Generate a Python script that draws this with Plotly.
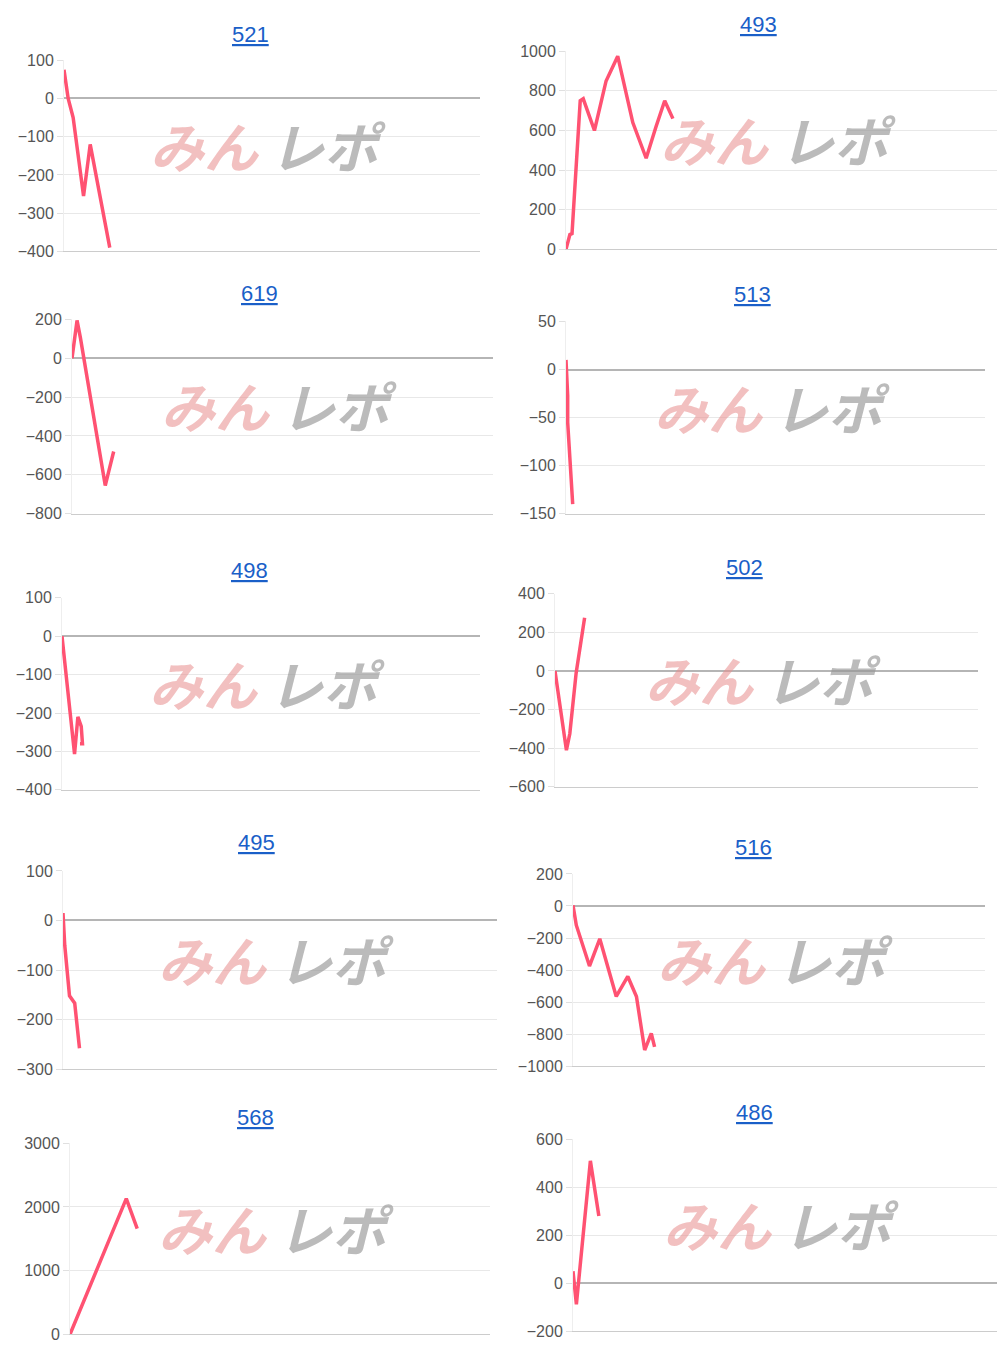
import plotly.graph_objects as go

W, H = 1000, 1355

names = ['521', '493', '619', '513', '498', '502', '495', '516', '568', '486']

# x is position along the (unlabelled) x axis, 0..100
x_521 = [0, 1.0, 2.2, 4.7, 6.3, 8.7, 11.0]
y_521 = [75, 0, -50, -255, -120, -255, -390]
x_493 = [0, 0.9, 1.4, 2.7, 3.3, 4.0, 6.6, 9.3, 12.0, 15.5, 18.6, 20.9, 22.9, 24.8]
y_493 = [0, 75, 80, 560, 750, 760, 600, 850, 975, 640, 460, 620, 750, 660]
x_619 = [0, 1.2, 2.0, 7.9, 8.7, 9.9]
y_619 = [0, 195, 105, -655, -585, -480]
x_513 = [0, 0.4, 0.4, 0.8, 1.2, 1.6]
y_513 = [10, -27, -55, -80, -113, -140]
x_498 = [0, 1.0, 3.0, 3.8, 4.6, 4.9, 4.3]
y_498 = [0, -105, -307, -210, -235, -280, -280]
x_502 = [0, 2.7, 3.5, 5.0, 7.0]
y_502 = [0, -410, -325, -10, 275]
x_495 = [0, 0.4, 1.5, 2.7, 3.8]
y_495 = [15, -50, -152, -167, -258]
x_516 = [0, 0.8, 4.0, 6.5, 10.5, 13.3, 15.4, 17.4, 19.0, 19.8]
y_516 = [5, -120, -375, -205, -565, -440, -565, -900, -795, -880]
x_568 = [0, 13.4, 16.0]
y_568 = [0, 2130, 1660]
x_486 = [0, 0.8, 4.1, 6.1]
y_486 = [50, -88, 510, 280]

series = [(x_521, y_521), (x_493, y_493), (x_619, y_619), (x_513, y_513),
          (x_498, y_498), (x_502, y_502), (x_495, y_495), (x_516, y_516),
          (x_568, y_568), (x_486, y_486)]

y_ranges = [(-400, 100), (0, 1000), (-800, 200), (-150, 50), (-400, 100),
            (-600, 400), (-300, 100), (-1000, 200), (0, 3000), (-200, 600)]
y_dticks = [100, 200, 200, 50, 100, 200, 100, 200, 1000, 200]

# pixel boxes: x0, x1, y_top, y_bottom, title x, title y
boxes = [(64, 480, 60, 251, 250, 34), (566, 997, 51, 249, 758, 24),
         (72, 493, 319, 513, 259, 293), (566, 985, 321, 513, 752, 294),
         (62, 480, 597, 789, 249, 570), (555, 978, 593, 786, 744, 567),
         (63, 497, 870, 1068, 256, 842), (573, 985, 873, 1065, 753, 847),
         (70, 490, 1142, 1333, 255, 1116), (573, 997, 1138, 1330, 754, 1111)]


def py(v):
    # page pixel -> paper y (the screenshot squeezes the page a little vertically)
    return 1 - ((v - 7.8) / 0.9866) / H


fig = go.Figure()
annotations = []
for i, (name, (xs, ys)) in enumerate(zip(names, series)):
    n = '' if i == 0 else str(i + 1)
    x0, x1, yt, yb, tx, ty = boxes[i]
    fig.add_trace(go.Scatter(x=xs, y=ys, mode='lines', xaxis='x' + n, yaxis='y' + n,
                             line=dict(color='#ff5272', width=3.5), showlegend=False))
    fig.layout['xaxis' + n] = dict(domain=[x0 / W, x1 / W], range=[0, 100], anchor='y' + n,
                                   showticklabels=False, showgrid=False, zeroline=False,
                                   showline=True, linecolor='#cccccc', fixedrange=True)
    fig.layout['yaxis' + n] = dict(domain=[py(yb), py(yt)], range=list(y_ranges[i]),
                                   dtick=y_dticks[i], anchor='x' + n,
                                   gridcolor='#e8e8e8', zeroline=True, zerolinecolor='#b5b5b5',
                                   zerolinewidth=1.5, showline=True, linecolor='#eeeeee',
                                   ticks='outside', ticklen=6, tickcolor='#e0e0e0',
                                   tickfont=dict(size=16, color='#555555'))
    cx = (x0 + x1) / 2
    annotations.append(dict(text='<u>' + name + '</u>', x=tx / W, y=py(ty), xref='paper',
                            yref='paper', xanchor='center', yanchor='middle', showarrow=False,
                            font=dict(size=22, color='#1a5fc8')))
    wy = py(yt + 0.44 * (yb - yt))
    annotations.append(dict(text='<b><i>みん</i></b>', x=(cx - 10) / W, y=wy, xref='paper',
                            yref='paper', xanchor='right', yanchor='middle', showarrow=False,
                            font=dict(size=54, color='rgba(232,140,140,0.55)',
                                      family='Noto Sans CJK JP')))
    annotations.append(dict(text='<b><i>レポ</i></b>', x=(cx - 4) / W, y=wy, xref='paper',
                            yref='paper', xanchor='left', yanchor='middle', showarrow=False,
                            font=dict(size=54, color='rgba(150,150,150,0.65)',
                                      family='Noto Sans CJK JP')))

fig.update_layout(width=W, height=H, margin=dict(l=0, r=0, t=0, b=0),
                  plot_bgcolor='white', paper_bgcolor='white',
                  font=dict(family='Liberation Sans, Arial'), annotations=annotations)

page_js = ("document.body.style.margin='0';document.body.style.height='1355px';"
           "document.body.style.overflow='hidden';"
           "document.documentElement.style.overflow='hidden';")
fig.write_html("out.html", post_script=page_js, config={'displayModeBar': False})
